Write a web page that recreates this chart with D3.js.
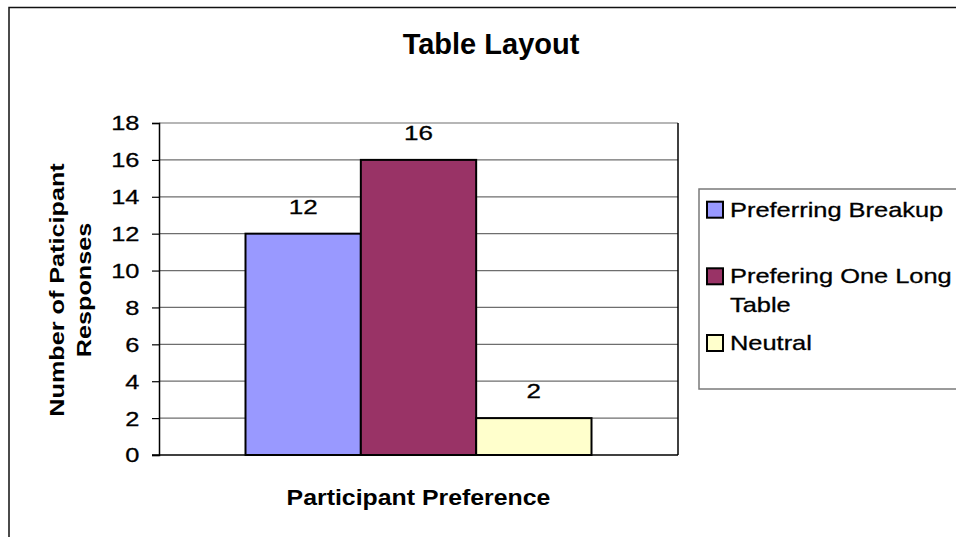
<!DOCTYPE html>
<html>
<head>
<meta charset="utf-8">
<script src="https://cdn.jsdelivr.net/npm/d3@7"></script>
<style>
  html, body { margin: 0; padding: 0; background: #fff; }
  svg { display: block; font-family: "Liberation Sans", Arial, sans-serif; }
  .plain { stroke: #000; stroke-width: 0.3px; }
</style>
</head>
<body>
<svg id="chart" width="956" height="537"></svg>
<script>
// Chart data
const chartTitle = "Table Layout";
const categories = ["Participant Preference"];
const seriesNames = ["Preferring Breakup", "Prefering One Long Table", "Neutral"];
const legendLines = [["Preferring Breakup"], ["Prefering One Long", "Table"], ["Neutral"]];
const seriesValues = [12, 16, 2];
const seriesColors = ["#9999FF", "#993366", "#FFFFCC"];
const yTicks = [0, 2, 4, 6, 8, 10, 12, 14, 16, 18];
const yTitleLines = ["Number of Paticipant", "Responses"];
const xTitle = "Participant Preference";

// Wide lettering used for the body text of the chart
const WIDE = 1.24;

const svg = d3.select("#chart");

// Outer chart frame
svg.append("rect")
  .attr("x", 9).attr("y", 7.5)
  .attr("width", 980).attr("height", 560)
  .attr("fill", "#fff").attr("stroke", "#111").attr("stroke-width", 1.5);

const plot = { left: 159, right: 678, top: 123, bottom: 455 };

const y = d3.scaleLinear().domain([0, 18]).range([plot.bottom, plot.top]);
const x0 = d3.scaleBand().domain(categories).range([plot.left, plot.right])
  .paddingInner(0).paddingOuter(0.25);
const x1 = d3.scaleBand().domain(seriesNames).range([0, x0.bandwidth()]).padding(0);

// Gridlines
svg.append("g")
  .selectAll("line").data(yTicks.filter(t => t > 0)).join("line")
  .attr("x1", plot.left).attr("x2", plot.right)
  .attr("y1", d => y(d)).attr("y2", d => y(d))
  .attr("stroke", "#6e6e6e").attr("stroke-width", 1.2);

// Plot right border
svg.append("line")
  .attr("x1", plot.right).attr("x2", plot.right)
  .attr("y1", plot.top).attr("y2", plot.bottom)
  .attr("stroke", "#000").attr("stroke-width", 1.5);

// Y axis
const yAxis = d3.axisLeft(y).tickValues(yTicks).tickSize(7).tickPadding(12).tickFormat(d3.format("d"));
const gy = svg.append("g").attr("transform", `translate(${plot.left},0)`).call(yAxis);
gy.select(".domain").attr("stroke", "#000").attr("stroke-width", 1.5);
gy.selectAll(".tick line").attr("stroke", "#000").attr("stroke-width", 1.2);
gy.selectAll(".tick text")
  .attr("class", "plain")
  .attr("font-family", "Liberation Sans, Arial, sans-serif")
  .attr("font-size", 20.5).attr("fill", "#000")
  .attr("x", 0).attr("dy", "0.34em")
  .attr("transform", `translate(-19.5,0) scale(${WIDE},1)`);

// X axis baseline
svg.append("line")
  .attr("x1", plot.left - 7).attr("x2", plot.right)
  .attr("y1", plot.bottom).attr("y2", plot.bottom)
  .attr("stroke", "#000").attr("stroke-width", 1.5);

// Bars
const groups = svg.append("g").selectAll("g").data(categories).join("g")
  .attr("transform", d => `translate(${x0(d)},0)`);

const barData = seriesNames.map((name, i) => ({ name, value: seriesValues[i], color: seriesColors[i] }));

groups.selectAll("rect").data(barData).join("rect")
  .attr("x", d => x1(d.name))
  .attr("y", d => y(d.value))
  .attr("width", x1.bandwidth())
  .attr("height", d => y(0) - y(d.value))
  .attr("fill", d => d.color)
  .attr("stroke", "#000").attr("stroke-width", 2);

// Value labels
groups.selectAll("text.value").data(barData).join("text")
  .attr("class", "value plain")
  .attr("transform", d => `translate(${x1(d.name) + x1.bandwidth() / 2},${y(d.value) - 20}) scale(${WIDE},1)`)
  .attr("text-anchor", "middle")
  .attr("font-size", 21).attr("fill", "#000")
  .text(d => d.value);

// Title
svg.append("text")
  .attr("x", 491).attr("y", 53.5)
  .attr("text-anchor", "middle")
  .attr("font-size", 29).attr("font-weight", "bold")
  .text(chartTitle);

// X axis title
svg.append("text")
  .attr("transform", `translate(${(plot.left + plot.right) / 2},505) scale(1.13,1)`)
  .attr("text-anchor", "middle")
  .attr("font-size", 22).attr("font-weight", "bold")
  .text(xTitle);

// Y axis title
const yt = svg.append("text")
  .attr("transform", `translate(63.5,${(plot.top + plot.bottom) / 2 + 1}) rotate(-90) scale(1.2,1)`)
  .attr("text-anchor", "middle")
  .attr("font-size", 21).attr("font-weight", "bold");
yt.selectAll("tspan").data(yTitleLines).join("tspan")
  .attr("x", 0).attr("dy", (d, i) => i === 0 ? 0 : 28)
  .text(d => d);

// Legend
const legend = svg.append("g");
legend.append("rect")
  .attr("x", 699).attr("y", 189)
  .attr("width", 300).attr("height", 200)
  .attr("fill", "#fff").attr("stroke", "#7a7a7a").attr("stroke-width", 1.5);

const legendBaselines = [216.7, 283.3, 350];
const items = legend.selectAll("g.item").data(barData).join("g").attr("class", "item");
items.append("rect")
  .attr("x", 707).attr("y", (d, i) => legendBaselines[i] - 15)
  .attr("width", 16).attr("height", 16)
  .attr("fill", d => d.color).attr("stroke", "#000").attr("stroke-width", 2);
items.append("text")
  .attr("class", "plain")
  .attr("transform", (d, i) => `translate(730,${legendBaselines[i]}) scale(${WIDE},1)`)
  .attr("font-size", 20.5).attr("fill", "#000")
  .selectAll("tspan").data((d, i) => legendLines[i]).join("tspan")
  .attr("x", 0).attr("dy", (d, j) => j === 0 ? 0 : 28.4)
  .text(d => d);
</script>
</body>
</html>
